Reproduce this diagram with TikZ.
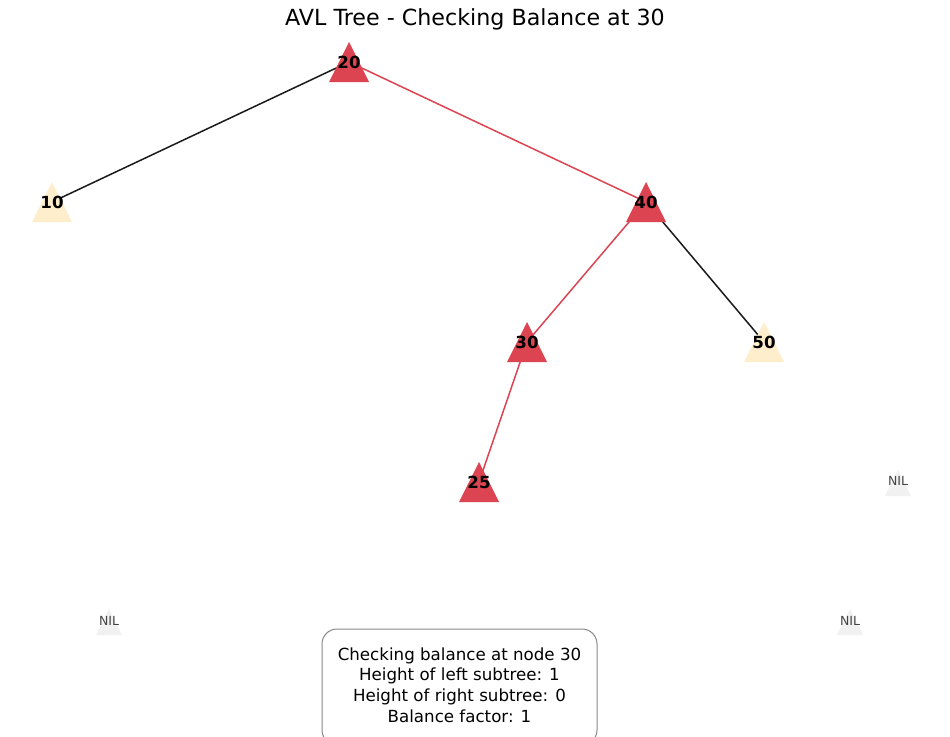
\documentclass[tikz,border=0pt]{standalone}
\usepackage{fontspec}
\setmainfont{DejaVu Sans}
\definecolor{hot}{HTML}{DC4451}
\definecolor{cool}{HTML}{FFEECB}
\definecolor{nilc}{HTML}{F1F1F1}
\definecolor{edgek}{HTML}{1A1A1A}
\definecolor{nilt}{HTML}{444444}
\definecolor{boxe}{HTML}{888888}
\tikzset{
  treelabel/.style={inner sep=0pt, font=\fontsize{16.67}{18}\selectfont\bfseries, text=black},
  nillabel/.style={inner sep=0pt, font=\fontsize{12.5}{14}\selectfont, text=nilt},
  plainedge/.style={draw=edgek, line width=1.5pt},
  hotedge/.style={draw=hot, line width=1.5pt},
}
\newcommand{\bigtri}[2]{\fill[#2] (#1) ++(0,-20) -- ++(20,40) -- ++(-40,0) -- cycle;}
\newcommand{\smalltri}[1]{\fill[nilc] (#1) ++(0,-13) -- ++(13,26) -- ++(-26,0) -- cycle;}
\begin{document}
\begin{tikzpicture}[x=1pt,y=-1pt]
\useasboundingbox (0,0) rectangle (950,736);
\clip (0,0) rectangle (950,736);
\fill[white] (0,0) rectangle (950,736);
% positions
\coordinate (c20) at (349,62);
\coordinate (c10) at (52,202);
\coordinate (c40) at (646,202);
\coordinate (c30) at (527,342);
\coordinate (c50) at (764,342);
\coordinate (c25) at (479,482);
\coordinate (nilA) at (898,483);
\coordinate (nilB) at (109,622);
\coordinate (nilC) at (850,622);
% edges
\draw[plainedge] (c20) -- (c10);
\draw[hotedge] (c20) -- (c40);
\draw[hotedge] (c40) -- (c30);
\draw[plainedge] (c40) -- (c50);
\draw[hotedge] (c30) -- (c25);
% triangles
\bigtri{c20}{hot}
\bigtri{c10}{cool}
\bigtri{c40}{hot}
\bigtri{c30}{hot}
\bigtri{c50}{cool}
\bigtri{c25}{hot}
\smalltri{nilA}
\smalltri{nilB}
\smalltri{nilC}
% labels
\node[treelabel] (n20) at (c20) {20};
\node[treelabel] (n10) at (c10) {10};
\node[treelabel] (n40) at (c40) {40};
\node[treelabel] (n30) at (c30) {30};
\node[treelabel] (n50) at (c50) {50};
\node[treelabel] (n25) at (c25) {25};
\node[nillabel] (lA) at (898,481) {NIL};
\node[nillabel] (lB) at (109,621) {NIL};
\node[nillabel] (lC) at (850,621) {NIL};
% title
\node[inner sep=0pt, font=\fontsize{22.2}{26}\selectfont] (title) at (475,19) {AVL Tree - Checking Balance at 30};
% info box
\draw[draw=boxe, fill=white, line width=1pt, rounded corners=15pt] (322,629) rectangle (597,745);
\node[inner sep=0pt, align=center, font=\fontsize{16.67}{20.7}\selectfont] (info) at (459.5,685)
  {Checking balance at node 30\\Height of left subtree: 1\\Height of right subtree: 0\\Balance factor: 1};
\end{tikzpicture}
\end{document}
